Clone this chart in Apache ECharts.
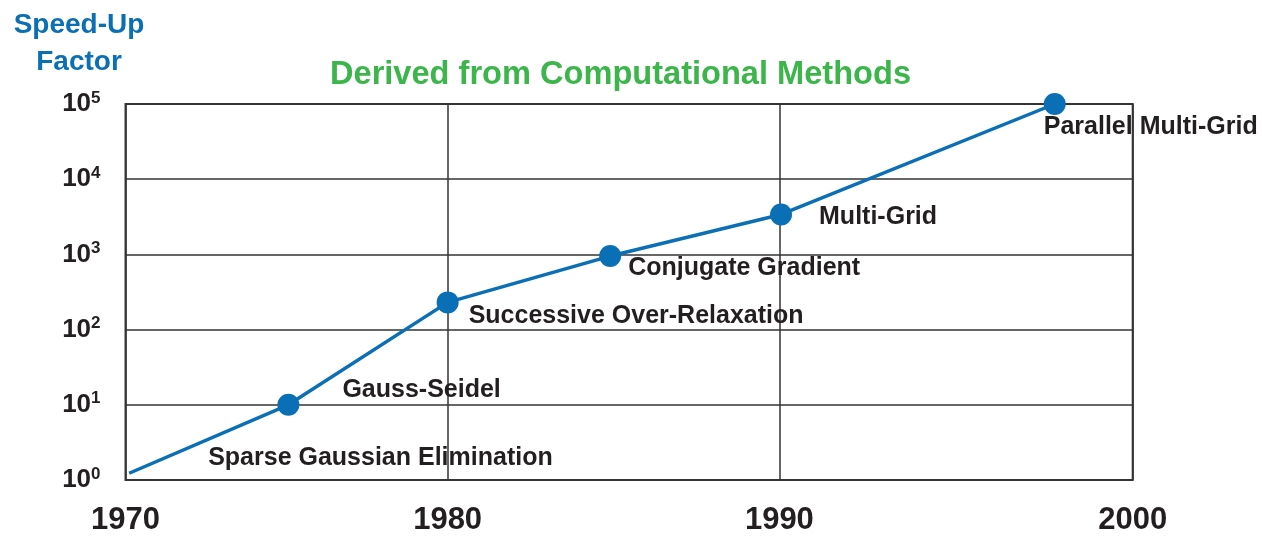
<!DOCTYPE html>
<html>
<head>
<meta charset="utf-8">
<script src="https://cdn.jsdelivr.net/npm/echarts@6/dist/echarts.min.js"></script>
<style>
  html, body { margin: 0; padding: 0; background: #fff; }
  #chart { width: 1262px; height: 536px; }
</style>
</head>
<body>
<div id="chart"></div>
<script>
// ---- data ----
const years   = [1970.4, 1975.2, 1980, 1984.9, 1990.05, 1998.3];
const speedUp = [1.23, 10, 230, 950, 3400, 100000];
const methods = ['Sparse Gaussian Elimination', 'Gauss-Seidel', 'Successive Over-Relaxation',
                 'Conjugate Gradient', 'Multi-Grid', 'Parallel Multi-Grid'];
const xTicks  = [1970, 1980, 1990, 2000];
const yTicks  = [1, 10, 100, 1000, 10000, 100000];
const titleText = 'Derived from Computational Methods';
const yName = 'Speed-Up\nFactor';

// ---- styling (label placement relative to each point) ----
const labelOffsets = [[79, -15], [54, -15], [21, 14], [18, 12], [38, 3], [-11, 23]];
const markerSizes  = [0, 22, 22, 22, 22, 22];

const X_MIN = 1970.29, X_MAX = 2000.65;
// first and last decade ticks sit on the frame edges of the plot
const xTickPos = xTicks.map((v, i) => i === 0 ? X_MIN : (i === xTicks.length - 1 ? X_MAX : v));

const FONT = '"Liberation Sans", Arial, Helvetica, sans-serif';
const BLUE = '#0b6fb6';
const INK = '#231f20';

const chart = echarts.init(document.getElementById('chart'), null, { renderer: 'canvas' });

chart.setOption({
  animation: false,
  backgroundColor: '#ffffff',
  title: [
    {
      text: titleText,
      left: 330, top: 59, padding: 0,
      textStyle: { fontFamily: FONT, fontSize: 32.6, fontWeight: 'bold', color: '#3cb54a' }
    },
    {
      text: yName,
      left: 79, top: 7, padding: 0, textAlign: 'center',
      textStyle: { fontFamily: FONT, fontSize: 28, fontWeight: 'bold', color: BLUE, lineHeight: 37, align: 'center' }
    }
  ],
  grid: {
    show: true,
    left: 125.5, right: 129.3, top: 104, bottom: 51.5,
    borderColor: '#3a3a3a', borderWidth: 2, backgroundColor: 'transparent',
    containLabel: false
  },
  xAxis: {
    type: 'value',
    min: X_MIN, max: X_MAX,
    axisLine: { show: false },
    axisTick: { show: false, customValues: xTickPos },
    splitLine: { show: true, lineStyle: { color: '#333', width: 1.5 } },
    axisLabel: {
      customValues: xTickPos,
      formatter: v => String(Math.round(v / 10) * 10),
      margin: 25,
      fontFamily: FONT, fontSize: 31, fontWeight: 'bold', color: INK
    }
  },
  yAxis: {
    type: 'log', logBase: 10,
    min: yTicks[0], max: yTicks[yTicks.length - 1],
    axisLine: { show: false },
    axisTick: { show: false },
    splitLine: { show: true, lineStyle: { color: '#333', width: 1.5 } },
    axisLabel: {
      margin: 25,
      formatter: v => '{b|10}{s|' + Math.round(Math.log10(v)) + '}',
      rich: {
        b: { fontFamily: FONT, fontSize: 26, fontWeight: 'bold', color: INK },
        s: { fontFamily: FONT, fontSize: 17, fontWeight: 'bold', color: INK, padding: [0, 0, 12, 0] }
      }
    }
  },
  series: [{
    type: 'line',
    data: years.map((y, i) => ({
      value: [y, speedUp[i]],
      name: methods[i],
      symbolSize: markerSizes[i]
    })),
    symbol: 'circle',
    showAllSymbol: true,
    lineStyle: { color: BLUE, width: 3.5 },
    itemStyle: { color: BLUE },
    clip: false,
    label: {
      show: true,
      position: 'inside',
      align: 'left',
      verticalAlign: 'middle',
      formatter: p => p.name,
      fontFamily: FONT, fontSize: 25, fontWeight: 'bold', color: INK
    },
    labelLayout: p => ({
      dx: labelOffsets[p.dataIndex][0],
      dy: labelOffsets[p.dataIndex][1],
      hideOverlap: false
    }),
    z: 3
  }]
});
</script>
</body>
</html>
